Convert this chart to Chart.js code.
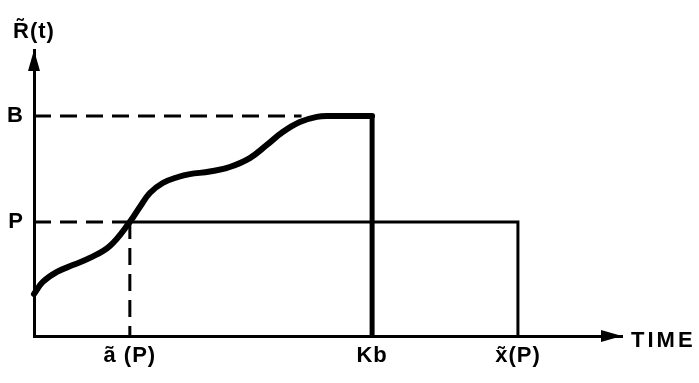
<!DOCTYPE html>
<html>
<head>
<meta charset="utf-8">
<script src="https://cdn.jsdelivr.net/npm/chart.js@4.4.0/dist/chart.umd.min.js"></script>
<style>
    html, body { margin: 0; padding: 0; background: #fff; }
    #wrap { width: 699px; height: 383px; }
</style>
</head>
<body>
<div id="wrap"><canvas id="chart" width="699" height="383"></canvas></div>
<script>
// Curve R~(t)
const curveTime  = [0, 1.5, 3.9, 6.6, 9.5, 12.9, 16.3, 18.0, 19.7, 21.9, 24.5, 26.5, 29.9, 33.3, 36.7, 39.6, 42.3, 45.2, 48.1, 50.3, 57.5];
const curveValue = [14.7, 18.9, 22.4, 24.8, 27.3, 31.5, 39.9, 45.1, 50.0, 53.5, 55.6, 56.6, 57.5, 59.1, 62.2, 66.8, 71.3, 74.8, 76.6, 76.9, 76.9];

// Levels on the vertical axis
const levelLabels = ['P', 'B'];
const levelValues = [39.9, 76.9];

// Marks on the time axis
const timeLabels = ['ã (P)', 'Kb', 'x̃(P)'];
const timeValues = [16.3, 57.5, 82.3];

// Where the dashed B guide meets the curve
const bGuideEnd = 45.5;

const FONT = '"Liberation Sans", Arial, sans-serif';

const [P, B] = levelValues;
const [aP, Kb, xP] = timeValues;

// Arrow heads and free text (axis names)
const axisExtras = {
    id: 'axisExtras',
    beforeDraw(chart) {
        chart.ctx.letterSpacing = '1px';
    },
    afterDraw(chart) {
        const { ctx, chartArea: a } = chart;
        ctx.save();
        ctx.fillStyle = '#000';

        // y arrow
        ctx.beginPath();
        ctx.moveTo(a.left, a.top);
        ctx.lineTo(a.left - 6, a.top + 21);
        ctx.lineTo(a.left + 6, a.top + 21);
        ctx.closePath();
        ctx.fill();

        // x arrow
        ctx.beginPath();
        ctx.moveTo(a.right, a.bottom);
        ctx.lineTo(a.right - 21, a.bottom - 6);
        ctx.lineTo(a.right - 21, a.bottom + 6);
        ctx.closePath();
        ctx.fill();

        ctx.font = 'bold 22px ' + FONT;
        ctx.textBaseline = 'middle';
        ctx.textAlign = 'left';
        ctx.letterSpacing = '3px';
        ctx.fillText('TIME', a.right + 9, a.bottom + 5);
        ctx.letterSpacing = '1px';
        ctx.fillText('R̃(t)', 13, 32);
        ctx.restore();
        ctx.letterSpacing = '0px';
    }
};

const dashed = (data) => ({
    data,
    borderColor: '#000',
    borderWidth: 3,
    borderDash: [17, 9],
    pointRadius: 0,
    tension: 0,
    clip: false,
    order: 3
});

new Chart(document.getElementById('chart'), {
    type: 'line',
    data: {
        datasets: [
            {
                data: curveTime.map((t, i) => ({ x: t, y: curveValue[i] })),
                borderColor: '#000',
                borderWidth: 6,
                tension: 0.4,
                borderCapStyle: 'round',
                pointRadius: 0,
                clip: false,
                order: 1
            },
            {
                data: [{ x: Kb, y: B }, { x: Kb, y: 0 }],
                borderColor: '#000',
                borderWidth: 5,
                pointRadius: 0,
                clip: false,
                order: 1
            },
            {
                data: [{ x: aP, y: P }, { x: xP, y: P }, { x: xP, y: 0 }],
                borderColor: '#000',
                borderWidth: 3,
                borderJoinStyle: 'miter',
                pointRadius: 0,
                tension: 0,
                clip: false,
                order: 2
            },
            dashed([{ x: 0, y: P }, { x: aP, y: P }]),
            dashed([{ x: aP, y: P }, { x: aP, y: 0 }]),
            dashed([{ x: 0, y: B }, { x: bGuideEnd, y: B }])
        ]
    },
    options: {
        responsive: false,
        animation: false,
        events: [],
        layout: { padding: { top: 50, right: 77, left: 0, bottom: 0 } },
        plugins: {
            legend: { display: false },
            tooltip: { enabled: false }
        },
        scales: {
            x: {
                type: 'linear',
                min: 0,
                max: 100,
                grid: { display: false, drawTicks: false },
                border: { display: true, width: 3, color: '#000' },
                afterBuildTicks: (scale) => {
                    scale.ticks = timeValues.map(v => ({ value: v }));
                },
                afterFit: (scale) => { scale.height = 47; },
                ticks: {
                    autoSkip: false,
                    maxRotation: 0,
                    padding: 7,
                    color: '#000',
                    font: { family: FONT, size: 22, weight: 'bold' },
                    callback: (v, i) => timeLabels[i]
                }
            },
            y: {
                min: 0,
                max: 100,
                grid: { display: false, drawTicks: false },
                border: { display: true, width: 3, color: '#000' },
                afterBuildTicks: (scale) => {
                    scale.ticks = levelValues.map(v => ({ value: v }));
                },
                afterFit: (scale) => { scale.width = 34; },
                ticks: {
                    autoSkip: false,
                    padding: 10,
                    color: '#000',
                    font: { family: FONT, size: 22, weight: 'bold' },
                    callback: (v, i) => levelLabels[i]
                }
            }
        }
    },
    plugins: [axisExtras]
});
</script>
</body>
</html>
